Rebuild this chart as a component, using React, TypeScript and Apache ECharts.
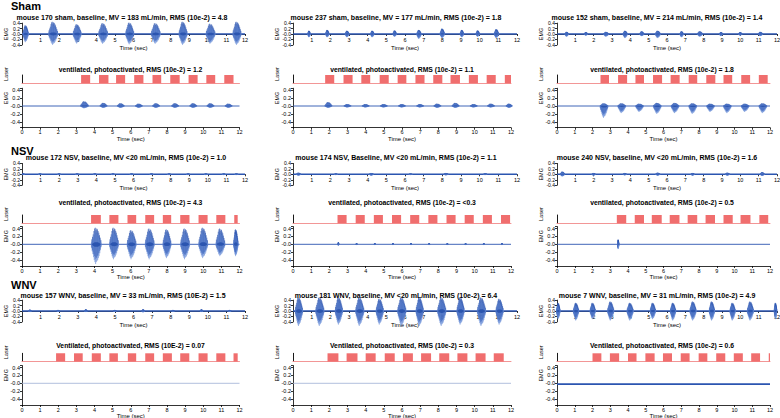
import React, { useEffect, useRef } from "react";
import * as echarts from "echarts";

// ---------- DATA ----------
// bursts: [time (s), burst width (s), peak up, peak down]
const sham170Base = [[0.2,0.3,0.32,0.3],[1.68,0.5,0.45,0.4],[2.97,0.45,0.36,0.35],[4.37,0.5,0.4,0.36],[5.8,0.45,0.42,0.38],[7.2,0.5,0.4,0.36],[8.67,0.45,0.45,0.4],[10.15,0.5,0.38,0.36],[11.57,0.45,0.45,0.4]];
const sham170Laser = [[3.26,3.76],[4.25,4.77],[5.19,5.69],[6.19,6.7],[7.2,7.68],[8.18,8.7],[9.19,9.69],[10.17,10.66],[11.16,11.67]];
const sham170Vent = [[3.45,0.45,0.12,0.06],[4.5,0.4,0.08,0.05],[5.45,0.4,0.07,0.05],[6.45,0.4,0.06,0.05],[7.4,0.4,0.07,0.05],[8.45,0.4,0.07,0.05],[9.45,0.4,0.07,0.05],[10.4,0.4,0.07,0.05],[11.4,0.4,0.06,0.05]];

const sham237Base = [[0.86,0.15,0.12,0.12],[1.84,0.2,0.15,0.12],[2.9,0.22,0.12,0.12],[4.25,0.2,0.12,0.12],[5.45,0.2,0.13,0.1],[6.75,0.25,0.15,0.18],[8.0,0.25,0.2,0.15],[9.05,0.2,0.15,0.12],[9.9,0.2,0.13,0.1],[10.9,0.25,0.18,0.15]];
const sham237Laser = [[1.77,2.27],[2.78,3.28],[3.76,4.25],[4.77,5.27],[5.76,6.24],[6.74,7.24],[7.72,8.22],[8.67,9.19],[9.68,10.18],[10.66,11.16],[11.66,12]];
const sham237Vent = [[1.95,0.4,0.1,0.05],[3.0,0.4,0.05,0.04],[4.0,0.4,0.05,0.04],[5.0,0.4,0.05,0.04],[6.0,0.4,0.05,0.04],[7.0,0.4,0.05,0.04],[7.95,0.4,0.06,0.05],[8.95,0.4,0.08,0.05],[9.95,0.4,0.05,0.04],[10.9,0.4,0.06,0.04],[11.9,0.35,0.06,0.05]];

const sham152Base = [[0.53,0.2,0.08,0.1],[1.58,0.2,0.07,0.06],[2.68,0.3,0.08,0.1],[3.72,0.25,0.12,0.15],[4.63,0.25,0.1,0.08],[5.5,0.3,0.12,0.15],[6.8,0.2,0.1,0.12],[7.8,0.3,0.1,0.1],[8.95,0.2,0.07,0.08],[10.0,0.2,0.07,0.06],[11.1,0.25,0.08,0.08]];
const sham152Laser = [[2.45,2.93],[3.44,3.95],[4.42,4.9],[5.41,5.92],[6.4,6.91],[7.42,7.9],[8.41,8.92],[9.38,9.87],[10.38,10.88],[11.37,11.87]];
const sham152Vent = [[2.65,0.45,0.07,0.3],[3.65,0.45,0.07,0.18],[4.65,0.45,0.06,0.15],[5.65,0.45,0.08,0.2],[6.65,0.45,0.08,0.18],[7.65,0.45,0.07,0.2],[8.65,0.45,0.06,0.15],[9.6,0.45,0.06,0.18],[10.6,0.45,0.06,0.15],[11.6,0.45,0.07,0.18]];

const nsv172Base = [[0.07,0.15,0.03,0.03],[0.97,0.2,0.03,0.03],[2.0,0.2,0.03,0.03],[2.97,0.2,0.03,0.03],[3.92,0.2,0.03,0.03],[4.9,0.2,0.03,0.03],[5.9,0.2,0.03,0.03],[6.97,0.2,0.03,0.03],[7.92,0.2,0.03,0.03],[8.94,0.2,0.03,0.03],[9.9,0.2,0.03,0.03],[10.86,0.2,0.03,0.03],[11.54,0.2,0.03,0.03]];
const nsv172Laser = [[3.81,4.35],[4.82,5.32],[5.82,6.3],[6.8,7.29],[7.77,8.23],[8.73,9.24],[9.74,10.24],[10.72,11.22],[11.71,11.9]];
const nsv172Vent = [[4.1,0.55,0.42,0.5],[5.08,0.5,0.42,0.38],[6.05,0.5,0.36,0.38],[7.05,0.5,0.4,0.38],[8.0,0.45,0.38,0.35],[9.0,0.5,0.4,0.38],[10.0,0.5,0.42,0.35],[10.95,0.5,0.4,0.3],[11.8,0.25,0.38,0.3]];

const nsv174Base = [[0.3,0.25,0.06,0.05],[2.3,0.2,0.03,0.03],[4.2,0.25,0.05,0.05],[6.3,0.2,0.03,0.03],[8.2,0.25,0.05,0.04],[10.3,0.2,0.04,0.03]];
const nsv174Laser = [[2.45,2.95],[3.45,3.95],[4.45,4.95],[5.45,5.95],[6.45,6.95],[7.45,7.95],[8.45,8.95],[9.45,9.95],[10.45,10.95],[11.45,11.95]];
const nsv174Vent = [[2.5,0.05,0.05,0.03],[3.5,0.05,0.03,0.02],[4.5,0.05,0.03,0.02],[5.5,0.05,0.03,0.02],[6.5,0.05,0.03,0.02],[7.5,0.05,0.03,0.02],[8.5,0.05,0.03,0.02],[9.5,0.05,0.03,0.02],[10.5,0.05,0.03,0.02],[11.5,0.05,0.03,0.02]];

const nsv240Base = [[0.3,0.25,0.1,0.08],[2.0,0.2,0.05,0.05],[3.7,0.2,0.05,0.04],[5.5,0.25,0.06,0.05],[7.4,0.2,0.05,0.05],[9.3,0.25,0.06,0.05],[11.2,0.25,0.08,0.06]];
const nsv240Laser = [[3.37,3.9],[4.38,4.9],[5.34,5.9],[6.35,6.9],[7.36,7.9],[8.37,8.9],[9.38,9.9],[10.34,10.9],[11.4,11.9]];
const nsv240Vent = [[3.45,0.08,0.12,0.12]];

const wnv157Base = [[0.43,0.15,0.05,0.04],[1.95,0.15,0.04,0.03],[3.44,0.15,0.06,0.04],[5.0,0.15,0.04,0.03],[6.52,0.15,0.06,0.05],[8.13,0.15,0.04,0.03],[9.66,0.15,0.06,0.04],[11.18,0.15,0.04,0.03]];
const wnv157Laser = [[1.88,2.38],[2.87,3.35],[3.85,4.35],[4.82,5.29],[5.84,6.3],[6.8,7.29],[7.77,8.27],[8.73,9.23],[9.74,10.24],[10.72,11.22],[11.67,11.9]];
const wnv157Vent: number[][] = [];

const wnv181Base = [[0.32,0.4,0.5,0.55],[1.44,0.45,0.5,0.55],[2.46,0.4,0.5,0.5],[3.58,0.45,0.5,0.55],[4.65,0.4,0.45,0.5],[5.83,0.45,0.5,0.55],[6.79,0.4,0.5,0.55],[7.97,0.45,0.5,0.55],[8.98,0.4,0.5,0.5],[10.1,0.45,0.5,0.55],[11.07,0.4,0.45,0.5]];
const wnv181Laser = [[1.9,2.5],[2.95,3.55],[4.0,4.55],[5.05,5.6],[6.05,6.6],[7.05,7.6],[8.05,8.6],[9.05,9.6],[10.05,10.6],[11.05,11.6]];
const wnv181Vent: number[][] = [];

const wnv7Base = [[0.07,0.2,0.3,0.3],[1.04,0.3,0.3,0.35],[1.95,0.3,0.3,0.3],[2.93,0.35,0.35,0.35],[3.99,0.35,0.3,0.35],[5.23,0.3,0.3,0.3],[6.33,0.3,0.3,0.35],[7.42,0.35,0.35,0.35],[8.45,0.3,0.35,0.35],[9.58,0.3,0.3,0.35],[10.55,0.35,0.35,0.35],[11.92,0.15,0.3,0.3]];
const wnv7Laser = [[2.0,2.5],[2.98,3.5],[4.0,4.48],[4.98,5.5],[5.97,6.48],[6.97,7.47],[7.98,8.47],[8.97,9.48],[9.96,10.47],[10.94,11.44],[11.93,12.0]];
const wnv7Vent: number[][] = [];

// baseline level of the ventilated EMG trace
const ventLevel = [[0, 0, 0], [0, 0, 0], [0, 0, -0.02]];

const groupNames = ["Sham", "NSV", "WNV"];
const baseTitles = [
  ["mouse 170 sham, baseline, MV = 183 mL/min, RMS (10e-2) = 4.8", "mouse 237 sham, baseline, MV = 177 mL/min, RMS (10e-2) = 1.8", "mouse 152 sham, baseline, MV = 214 mL/min, RMS (10e-2) = 1.4"],
  ["mouse 172 NSV, baseline, MV <20 mL/min, RMS (10e-2) = 1.0", "mouse 174 NSV, Baseline, MV <20 mL/min, RMS (10e-2) = 1.1", "mouse 240 NSV, baseline, MV <20 mL/min, RMS (10e-2) = 1.6"],
  ["mouse 157 WNV, baseline, MV = 33 mL/min, RMS (10E-2) = 1.5", "mouse 181 WNV, baseline, MV <20 mL/min, RMS (10e-2) = 6.4", "mouse 7 WNV, baseline, MV = 31 mL/min, RMS (10e-2) = 4.9"],
];
const ventTitles = [
  ["ventilated, photoactivated, RMS (10e-2) = 1.2", "ventilated, photoactivated, RMS (10e-2) = 1.1", "ventilated, photoactivated, RMS (10e-2) = 1.8"],
  ["ventilated, photoactivated, RMS (10e-2) = 4.3", "ventilated, photoactivated, RMS (10e-2) = <0.3", "ventilated, photoactivated, RMS (10e-2) = 0.5"],
  ["Ventilated, photoactivated, RMS (10E-2) = 0.07", "Ventilated, photoactivated, RMS (10e-2) = 0.3", "Ventilated, photoactivated, RMS (10e-2) = 0.6"],
];
const baseData = [[sham170Base, sham237Base, sham152Base], [nsv172Base, nsv174Base, nsv240Base], [wnv157Base, wnv181Base, wnv7Base]];
const laserData = [[sham170Laser, sham237Laser, sham152Laser], [nsv172Laser, nsv174Laser, nsv240Laser], [wnv157Laser, wnv181Laser, wnv7Laser]];
const ventData = [[sham170Vent, sham237Vent, sham152Vent], [nsv172Vent, nsv174Vent, nsv240Vent], [wnv157Vent, wnv181Vent, wnv7Vent]];

// ---------- LAYOUT / STYLE ----------
const FONT = "Liberation Sans, Arial, Helvetica, sans-serif";
const COL_X = [22, 293, 557];
const TOP_W = [223, 224, 220];
const BOT_W = [217.5, 218, 213];
const TOP_ZERO = [34, 174.3, 311];
const LASER_TOP = [75, 215, 353.3];
const BOT_ZERO = [106, 244.3, 383.3];
const LABEL_Y = [5.5, 151, 284.5];
const BASE_TITLE_Y = [17, 157.5, 295.5];
const VENT_TITLE_Y = [69.5, 202, 345];
const BASE_TITLE_X = [[122, 396, 657], [126, 396, 657], [123, 396, 657]];
const VENT_TITLE_X = [130.5, 402, 662];
const DARK = "#2b55b0";
const LIGHT = "#6d90d8";
const LASER_RED = "#f06e6e";

// burst drawing template (fraction of width, up factor, down factor)
const SPIKES = [[-0.49,0.12,0.15],[-0.45,0.3,0.2],[-0.42,0.2,0.35],[-0.38,0.45,0.3],[-0.35,0.3,0.5],[-0.31,0.6,0.4],[-0.28,0.4,0.65],[-0.24,0.8,0.5],[-0.21,0.55,0.8],[-0.17,0.95,0.6],[-0.14,0.7,0.9],[-0.1,1.0,0.75],[-0.07,0.6,1.0],[-0.03,0.85,0.65],[0.0,0.7,0.9],[0.04,0.95,0.7],[0.07,0.65,0.85],[0.11,0.9,0.6],[0.14,0.6,0.8],[0.18,0.8,0.55],[0.21,0.5,0.7],[0.25,0.7,0.45],[0.28,0.4,0.6],[0.32,0.55,0.35],[0.35,0.3,0.45],[0.39,0.4,0.25],[0.42,0.2,0.3],[0.46,0.25,0.15],[0.49,0.1,0.1]];
const CORE = [[-0.45,0],[-0.3,0.08],[-0.15,0.12],[0,0.13],[0.15,0.12],[0.3,0.08],[0.45,0]];

const yFmt = (v: number) => {
  const k = v * 5;
  if (Math.abs(k - Math.round(k)) > 1e-6) return "";
  if (Math.abs(v) < 1e-6) return "-0.0";
  return v.toFixed(1);
};

function burstItem(params: any, api: any) {
  const t = api.value(0), w = api.value(1), up = api.value(2), dn = api.value(3);
  const children: any[] = [];
  SPIKES.forEach(([f, a, b], i) => {
    const p1 = api.coord([t + f * w, a * up]);
    const p2 = api.coord([t + f * w, -b * dn]);
    children.push({ type: "line", shape: { x1: p1[0], y1: p1[1], x2: p2[0], y2: p2[1] }, style: { stroke: i % 2 ? DARK : LIGHT, lineWidth: 0.7 } });
  });
  const upper = CORE.map(([f, a]) => api.coord([t + f * w, a * up]));
  const lower = CORE.slice().reverse().map(([f, a]) => api.coord([t + f * w, -a * dn]));
  children.push({ type: "polygon", shape: { points: upper.concat(lower) }, style: { fill: DARK } });
  return { type: "group", children };
}

function laserItem(params: any, api: any) {
  const a = api.coord([api.value(0), 1]);
  const b = api.coord([api.value(1), 0]);
  return { type: "rect", shape: { x: a[0], y: a[1], width: b[0] - a[0], height: b[1] - a[1] }, style: { fill: LASER_RED } };
}

function buildOption() {
  const grid: any[] = [], xAxis: any[] = [], yAxis: any[] = [], series: any[] = [], graphic: any[] = [];
  const axisLineStyle = { color: "#000", width: 0.8 };
  const tickFont = { fontSize: 5.5, color: "#000", fontFamily: FONT };

  for (let r = 0; r < 3; r++) {
    graphic.push({ type: "text", x: 11, y: LABEL_Y[r], style: { text: groupNames[r], font: `bold 11px ${FONT}`, fill: "#000", align: "left", verticalAlign: "middle" } });
    for (let c = 0; c < 3; c++) {
      const x0 = COL_X[c];
      // ---- baseline EMG ----
      let gi = grid.length;
      const topH = 21.8;
      grid.push({ left: x0, top: TOP_ZERO[r] - topH / 2, width: TOP_W[c], height: topH, containLabel: false, outerBoundsMode: "none" });
      xAxis.push({ gridIndex: gi, type: "value", min: 0, max: 12, interval: 1, position: "bottom", offset: -topH / 2, axisLine: { onZero: false, lineStyle: axisLineStyle }, axisTick: { length: 2, lineStyle: axisLineStyle }, splitLine: { show: false }, axisLabel: { ...tickFont, margin: 2.5, showMinLabel: false, formatter: (v: number) => (v === 0 ? "" : String(v)) }, name: "Time (sec)", nameLocation: "middle", nameGap: 11, nameTextStyle: { fontSize: 6, fontFamily: FONT, color: "#000" } });
      yAxis.push({ gridIndex: gi, type: "value", min: -0.4, max: 0.4, interval: 0.2, axisLine: { show: true, lineStyle: axisLineStyle }, axisTick: { show: true, length: 2, lineStyle: axisLineStyle }, splitLine: { show: false }, axisLabel: { ...tickFont, fontSize: 5, margin: 2, formatter: yFmt } });
      series.push({ type: "line", xAxisIndex: gi, yAxisIndex: gi, data: [[0, 0], [12, 0]], symbol: "none", silent: true, lineStyle: { color: DARK, width: 1.4 }, z: 3 });
      series.push({ type: "custom", xAxisIndex: gi, yAxisIndex: gi, data: baseData[r][c], renderItem: burstItem, clip: false, silent: true, z: 4 });
      graphic.push({ type: "text", x: x0 - 16.5, y: TOP_ZERO[r], rotation: Math.PI / 2, style: { text: "EMG", font: `5.5px ${FONT}`, fill: "#000", align: "center", verticalAlign: "middle" } });
      graphic.push({ type: "text", x: BASE_TITLE_X[r][c], y: BASE_TITLE_Y[r], style: { text: baseTitles[r][c], font: `bold 7px ${FONT}`, fill: "#000", align: "center", verticalAlign: "middle" } });

      // ---- laser ----
      gi = grid.length;
      grid.push({ left: x0, top: LASER_TOP[r], width: BOT_W[c], height: 8.3, containLabel: false, outerBoundsMode: "none" });
      xAxis.push({ gridIndex: gi, type: "value", min: 0, max: 12, axisLine: { onZero: false, lineStyle: { color: "#f08a8a", width: 0.9 } }, axisTick: { show: false }, axisLabel: { show: false }, splitLine: { show: false } });
      yAxis.push({ gridIndex: gi, type: "value", min: 0, max: 1, axisLine: { show: true, lineStyle: { color: "#000", width: 0.9 } }, axisTick: { show: false }, axisLabel: { show: false }, splitLine: { show: false } });
      series.push({ type: "custom", xAxisIndex: gi, yAxisIndex: gi, data: laserData[r][c], renderItem: laserItem, silent: true });
      graphic.push({ type: "text", x: x0 - 16.5, y: LASER_TOP[r] - 1, rotation: Math.PI / 2, style: { text: "Laser", font: `5.5px ${FONT}`, fill: "#000", align: "center", verticalAlign: "middle" } });
      graphic.push({ type: "text", x: VENT_TITLE_X[c], y: VENT_TITLE_Y[r], style: { text: ventTitles[r][c], font: `bold 6.8px ${FONT}`, fill: "#000", align: "center", verticalAlign: "middle" } });

      // ---- ventilated EMG ----
      gi = grid.length;
      const unit = 39.5; // px per 1.0
      grid.push({ left: x0, top: BOT_ZERO[r] - 0.45 * unit, width: BOT_W[c], height: unit, containLabel: false, outerBoundsMode: "none" });
      xAxis.push({ gridIndex: gi, type: "value", min: 0, max: 12, interval: 1, axisLine: { onZero: false, lineStyle: axisLineStyle }, axisTick: { length: 2, lineStyle: axisLineStyle }, splitLine: { show: false }, axisLabel: { ...tickFont, margin: 1.5 }, name: "Time (sec)", nameLocation: "middle", nameGap: 6.5, nameTextStyle: { fontSize: 6, fontFamily: FONT, color: "#000" } });
      yAxis.push({ gridIndex: gi, type: "value", min: -0.55, max: 0.45, splitNumber: 5, axisLine: { show: true, lineStyle: axisLineStyle }, axisTick: { show: true, length: 2, lineStyle: axisLineStyle }, splitLine: { show: false }, axisLabel: { ...tickFont, margin: 2, formatter: yFmt } });
      const lvl = ventLevel[r][c];
      const faint = r === 2 && c < 2;
      series.push({ type: "line", xAxisIndex: gi, yAxisIndex: gi, data: [[0, lvl], [12, lvl]], symbol: "none", silent: true, lineStyle: { color: faint ? "#a9b9d9" : DARK, width: r === 2 && c === 2 ? 1.6 : 0.9 }, z: 3 });
      series.push({ type: "custom", xAxisIndex: gi, yAxisIndex: gi, data: ventData[r][c], renderItem: burstItem, clip: false, silent: true, z: 4 });
      graphic.push({ type: "text", x: x0 - 16.5, y: BOT_ZERO[r] - 8, rotation: Math.PI / 2, style: { text: "EMG", font: `5.5px ${FONT}`, fill: "#000", align: "center", verticalAlign: "middle" } });
    }
  }
  return { animation: false, backgroundColor: "#fff", textStyle: { fontFamily: FONT }, grid, xAxis, yAxis, series, graphic };
}

export default function App() {
  const ref = useRef<HTMLDivElement>(null);
  useEffect(() => {
    if (!ref.current) return;
    const chart = echarts.init(ref.current, undefined, { renderer: "svg" });
    chart.setOption(buildOption() as any);
    return () => chart.dispose();
  }, []);
  return <div ref={ref} style={{ position: "absolute", left: 0, top: 0, width: 780, height: 418 }} />;
}
